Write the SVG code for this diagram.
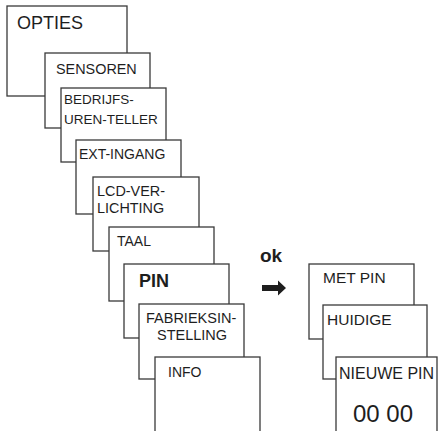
<svg xmlns="http://www.w3.org/2000/svg" width="438" height="431" viewBox="0 0 438 431">
<style>
rect.box{fill:#fff;stroke:#3a3a3a;stroke-width:1.3}
text{font-family:"Liberation Sans",Arial,sans-serif;fill:#1e1e1e}
.m{font-size:14px}
.b{font-weight:bold}
</style>
<rect width="438" height="431" fill="#fff"/>
<g id="opties"><rect class="box" x="7" y="6" width="120" height="90"/><text x="17" y="29" font-size="18">OPTIES</text></g>
<g id="sensoren"><rect class="box" x="45" y="53" width="105" height="75"/><text class="m" x="56" y="74" style="font-size:14.4px">SENSOREN</text></g>
<g id="bedrijfs"><rect class="box" x="61" y="88" width="105" height="74"/><text class="m" x="64" y="104" style="font-size:13.5px">BEDRIJFS-</text><text class="m" x="64" y="124" style="font-size:13.5px">UREN-TELLER</text></g>
<g id="ext"><rect class="box" x="76" y="140" width="105" height="74"/><text class="m" x="79" y="159">EXT-INGANG</text></g>
<g id="lcd"><rect class="box" x="93" y="177" width="106" height="74"/><text class="m" x="97" y="196" style="font-size:14.4px">LCD-VER-</text><text class="m" x="97" y="213" style="font-size:14.4px">LICHTING</text></g>
<g id="taal"><rect class="box" x="109" y="227" width="105" height="74"/><text class="m" x="117" y="246">TAAL</text></g>
<g id="pin"><rect class="box" x="124" y="264" width="105" height="74"/><text class="b" x="139" y="287" font-size="18">PIN</text></g>
<g id="fabrieks"><rect class="box" x="139" y="304" width="105" height="75"/><text class="m" x="146" y="323" style="font-size:14.5px">FABRIEKSIN-</text><text class="m" x="157" y="340" style="font-size:14.5px">STELLING</text></g>
<g id="info"><rect class="box" x="155" y="357" width="105" height="90"/><text class="m" x="168" y="377">INFO</text></g>
<g id="connectors">
<text class="b" x="260" y="262" font-size="19">ok</text>
<path d="M262 285H278V280.5L286 288L278 295.5V291H262Z" fill="#1e1e1e"/>
</g>
<g id="metpin"><rect class="box" x="309" y="264" width="105" height="75"/><text x="323" y="283" font-size="15.5">MET PIN</text></g>
<g id="huidige"><rect class="box" x="323" y="305" width="104" height="74"/><text x="327" y="325" font-size="15.5">HUIDIGE</text></g>
<g id="nieuwepin"><rect class="box" x="336" y="357" width="101" height="90"/><text x="339" y="379" font-size="16">NIEUWE PIN</text><text x="353" y="422" font-size="24">00 00</text></g>
</svg>
